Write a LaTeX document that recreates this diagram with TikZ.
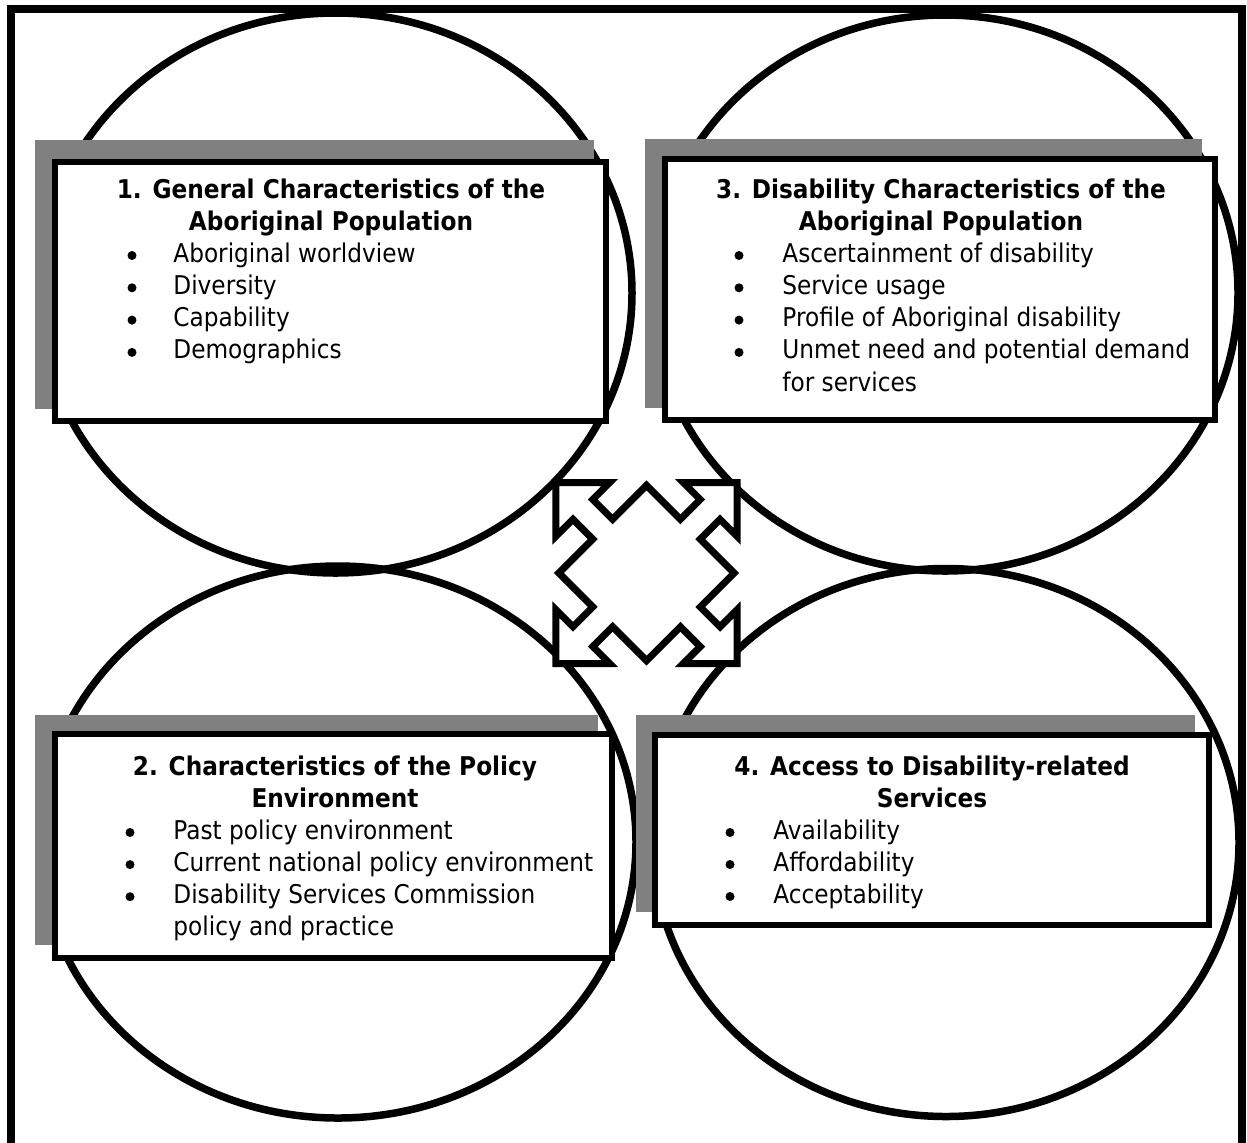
\documentclass[tikz,border=0pt]{standalone}
\usepackage{fontspec}
\setmainfont{DejaVu Sans}[FakeStretch=0.9]
\definecolor{shadowgray}{HTML}{808080}
\begin{document}
\begin{tikzpicture}[x=0.5pt,y=-0.5pt,
  ring/.style={draw=black,line width=3.75pt},
  frameline/.style={draw=black,line width=4pt},
  shadowbox/.style={fill=shadowgray,draw=none},
  mainbox/.style={draw=black,fill=white,line width=3pt},
  quadarrow/.style={draw=black,fill=white,line width=3.5pt,miter limit=20},
  ttl/.style={font=\fontsize{12.9}{15}\selectfont\bfseries,inner sep=0pt,anchor=base},
  itm/.style={font=\fontsize{12.9}{15}\selectfont,inner sep=0pt,anchor=base west},
  dot/.style={circle,fill=black,draw=none,inner sep=0pt,minimum size=4.5pt}]
\useasboundingbox (0,0) rectangle (1247,1142);
\fill[white] (0,0) rectangle (1247,1142);
% circles
\draw[ring] (335.5,293) ellipse [x radius=148.25pt, y radius=140pt];
\draw[ring] (945,293) ellipse [x radius=146.5pt, y radius=139pt];
\draw[ring] (338,842) ellipse [x radius=149pt, y radius=138pt];
\draw[ring] (946,842.5) ellipse [x radius=146.5pt, y radius=137pt];
% outer frame
\draw[frameline] (10.5,1160) -- (10.5,9) -- (1242,9) -- (1242,1160);
% box 1
\fill[shadowbox] (35,140) rectangle (594,409);
\draw[mainbox] (55,162) rectangle (606,421);
\node[ttl] (t1a) at (331,198) {1. General Characteristics of the};
\node[ttl] (t1b) at (331,230) {Aboriginal Population};
\foreach \t [count=\i] in {Aboriginal worldview, Diversity, Capability, Demographics}{
  \node[dot] (d1\i) at (132,{255.5+32.3*(\i-1)}) {};
  \node[itm] (b1\i) at (173,{262+32.3*(\i-1)}) {\t};
}
% box 3
\fill[shadowbox] (645,139) rectangle (1202,408);
\draw[mainbox] (665,159) rectangle (1215,420);
\node[ttl] (t3a) at (941,198) {3. Disability Characteristics of the};
\node[ttl] (t3b) at (941,230) {Aboriginal Population};
\foreach \t [count=\i] in {Ascertainment of disability, Service usage, Profile of Aboriginal disability, Unmet need and potential demand}{
  \node[dot] (d3\i) at (739,{255.5+32.3*(\i-1)}) {};
  \node[itm] (b3\i) at (782,{262+32.3*(\i-1)}) {\t};
}
\node[itm] (b35) at (782,391) {for services};
% box 2
\fill[shadowbox] (35,715) rectangle (598,945);
\draw[mainbox] (55,734) rectangle (612,958);
\node[ttl] (t2a) at (335,775) {2. Characteristics of the Policy};
\node[ttl] (t2b) at (335,807) {Environment};
\foreach \t [count=\i] in {Past policy environment, Current national policy environment, Disability Services Commission}{
  \node[dot] (d2\i) at (130,{832.5+32.1*(\i-1)}) {};
  \node[itm] (b2\i) at (173,{839+32.1*(\i-1)}) {\t};
}
\node[itm] (b24) at (173,935) {policy and practice};
% box 4
\fill[shadowbox] (636,715) rectangle (1195,912);
\draw[mainbox] (655,735) rectangle (1209,925);
\node[ttl] (t4a) at (932,775) {4. Access to Disability-related};
\node[ttl] (t4b) at (932,807) {Services};
\foreach \t [count=\i] in {Availability, Affordability, Acceptability}{
  \node[dot] (d4\i) at (730,{832.5+32*(\i-1)}) {};
  \node[itm] (b4\i) at (773,{839+32*(\i-1)}) {\t};
}
% central four-way arrow
\draw[quadarrow, shift={(646.5,573)}, rotate=45]
  (62,-62) -- (62,-14) -- (90,-14) -- (90,-38) -- (128,0) -- (90,38) -- (90,14) -- (62,14)
  -- (62,62) -- (14,62) -- (14,90) -- (38,90) -- (0,128) -- (-38,90) -- (-14,90) -- (-14,62)
  -- (-62,62) -- (-62,14) -- (-90,14) -- (-90,38) -- (-128,0) -- (-90,-38) -- (-90,-14) -- (-62,-14)
  -- (-62,-62) -- (-14,-62) -- (-14,-90) -- (-38,-90) -- (0,-128) -- (38,-90) -- (14,-90) -- (14,-62)
  -- cycle;
\end{tikzpicture}
\end{document}
